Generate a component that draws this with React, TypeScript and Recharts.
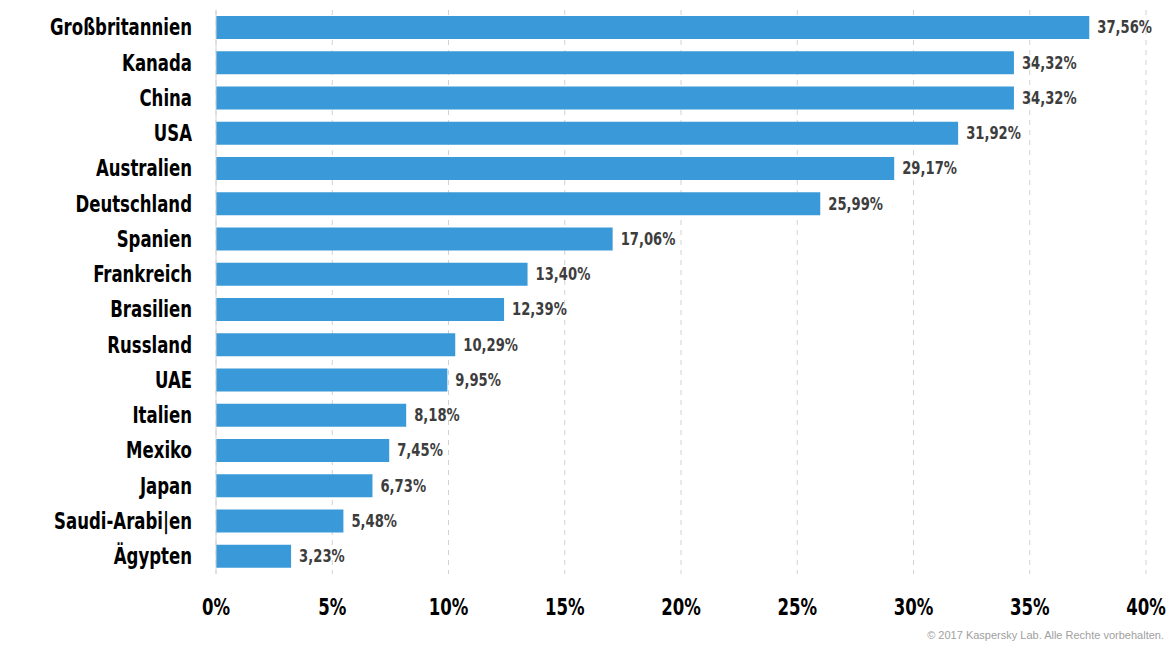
import React from "react";
import {
  BarChart,
  Bar,
  XAxis,
  YAxis,
  CartesianGrid,
  LabelList,
} from "recharts";

const countries = [
  "Großbritannien",
  "Kanada",
  "China",
  "USA",
  "Australien",
  "Deutschland",
  "Spanien",
  "Frankreich",
  "Brasilien",
  "Russland",
  "UAE",
  "Italien",
  "Mexiko",
  "Japan",
  "Saudi-Arabi|en",
  "Ägypten",
];

const shares = [
  37.56, 34.32, 34.32, 31.92, 29.17, 25.99, 17.06, 13.4, 12.39, 10.29, 9.95,
  8.18, 7.45, 6.73, 5.48, 3.23,
];

const xTicks = [0, 5, 10, 15, 20, 25, 30, 35, 40];

const data = countries.map((country, i) => ({ country, share: shares[i] }));

// no condensed web font available, so squeeze DejaVu Sans Condensed horizontally
const FONT = "'DejaVu Sans Condensed', 'Roboto', sans-serif";

const XTick = (props: any) => {
  const { x, y, payload } = props;
  return (
    <g transform={`translate(${x},${y + 34}) scale(0.8,1)`}>
      <text
        x={0}
        y={0}
        textAnchor="middle"
        dominantBaseline="middle"
        fontFamily={FONT}
        fontWeight={700}
        fontSize={23}
        fill="#000"
      >
        {payload.value}%
      </text>
    </g>
  );
};

const YTick = (props: any) => {
  const { x, y, payload } = props;
  return (
    <g transform={`translate(${x - 24},${y + 1}) scale(0.8,1)`}>
      <text
        x={0}
        y={0}
        textAnchor="end"
        dominantBaseline="middle"
        fontFamily={FONT}
        fontWeight={700}
        fontSize={23}
        fill="#000"
      >
        {payload.value}
      </text>
    </g>
  );
};

const fmt = (v: any) => Number(v).toFixed(2).replace(".", ",") + "%";

const ValueLabel = (props: any) => {
  const { x, y, width, height, value } = props;
  return (
    <g transform={`translate(${x + width + 8},${y + height / 2 + 1}) scale(0.86,1)`}>
      <text
        x={0}
        y={0}
        textAnchor="start"
        dominantBaseline="middle"
        fontFamily={FONT}
        fontWeight={600}
        fontSize={17}
        fill="#3d3d3d"
      >
        {fmt(value)}
      </text>
    </g>
  );
};

export default function App() {
  return (
    <div style={{ position: "absolute", left: 0, top: 0, width: 1174, height: 651, background: "#fff" }}>
      <BarChart
        width={1174}
        height={651}
        data={data}
        layout="vertical"
        margin={{ top: 10, right: 28, bottom: 37, left: 0 }}
        barCategoryGap={12}
      >
        <CartesianGrid
          horizontal={false}
          stroke="#d2d2d2"
          strokeDasharray="5 5"
        />
        <XAxis
          type="number"
          domain={[0, 40]}
          ticks={xTicks}
          height={40}
          tickSize={0}
          tickMargin={0}
          axisLine={false}
          tickLine={false}
          tick={<XTick />}
          interval={0}
        />
        <YAxis
          type="category"
          dataKey="country"
          width={216}
          tickSize={0}
          tickMargin={0}
          axisLine={{ stroke: "#d4d4d4" }}
          tickLine={false}
          tick={<YTick />}
          interval={0}
        />
        <Bar dataKey="share" fill="#3a9ad9" barSize={23} isAnimationActive={false}>
          <LabelList dataKey="share" content={<ValueLabel />} />
        </Bar>
      </BarChart>
      <div
        style={{
          position: "absolute",
          right: 10,
          top: 629,
          fontFamily: "'Liberation Sans', Arial, sans-serif",
          fontSize: 11,
          color: "#a0a0a0",
        }}
      >
        © 2017 Kaspersky Lab. Alle Rechte vorbehalten.
      </div>
    </div>
  );
}
